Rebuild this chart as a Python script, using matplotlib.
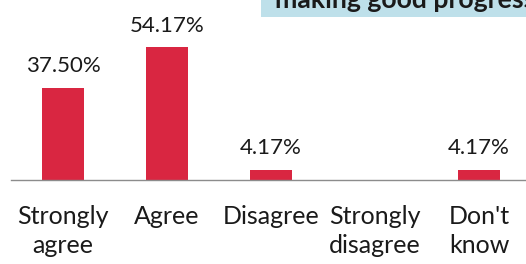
import matplotlib
matplotlib.use('Agg')
import matplotlib.pyplot as plt
from matplotlib.patches import Rectangle

# 응답 항목, 비율(%)
categories = ['Strongly\nagree', 'Agree', 'Disagree', 'Strongly\ndisagree', "Don't\nknow"]
values = [37.50, 54.17, 4.17, 0.0, 4.17]
value_labels = ['37.50%', '54.17%', '4.17%', '', '4.17%']
title_text = 'making good progress'

plt.rcParams['font.family'] = ['Lato', 'DejaVu Sans']

W, H = 526, 264
fig = plt.figure(figsize=(W / 100, H / 100), dpi=100)

# 축 위치 (픽셀 기준 -> figure 비율), 오른쪽은 잘려 나감
left_px, right_px = 11, 531
base_px, top_px = 180, 0
ax = fig.add_axes([left_px / W, (H - base_px) / H,
                   (right_px - left_px) / W, (base_px - top_px) / H])

x = range(len(categories))
bar_color = '#D92641'
ax.bar(x, values, width=0.40, color=bar_color)
ax.set_xlim(-0.5, 4.5)
ax.set_ylim(0, 73.3)

for xi, v, lab in zip(x, values, value_labels):
    if lab:
        ax.text(xi, v + 6.3, lab, ha='center', va='baseline',
                fontsize=16, color='#1a1a1a')

ax.set_xticks(list(x))
ax.set_xticklabels(categories, fontsize=18, color='#1a1a1a', linespacing=1.3)
ax.tick_params(axis='x', length=0, pad=18)
ax.set_yticks([])
for side in ['top', 'right', 'left']:
    ax.spines[side].set_visible(False)
ax.spines['bottom'].set_color('#8c8c8c')
ax.spines['bottom'].set_linewidth(1.0)

# 상단 제목 박스 (잘린 상태)
box_left, box_bottom = 261, 17
fig.patches.append(Rectangle((box_left / W, (H - box_bottom) / H),
                             (W - box_left) / W + 0.05, box_bottom / H + 0.05,
                             transform=fig.transFigure, facecolor='#BEE0EA',
                             edgecolor='none', zorder=0))
fig.text(275 / W, (H - 8) / H, title_text, ha='left', va='baseline',
         fontsize=19.2, fontweight='bold', color='#1a1a1a')

fig.savefig('out.png', dpi=100)
